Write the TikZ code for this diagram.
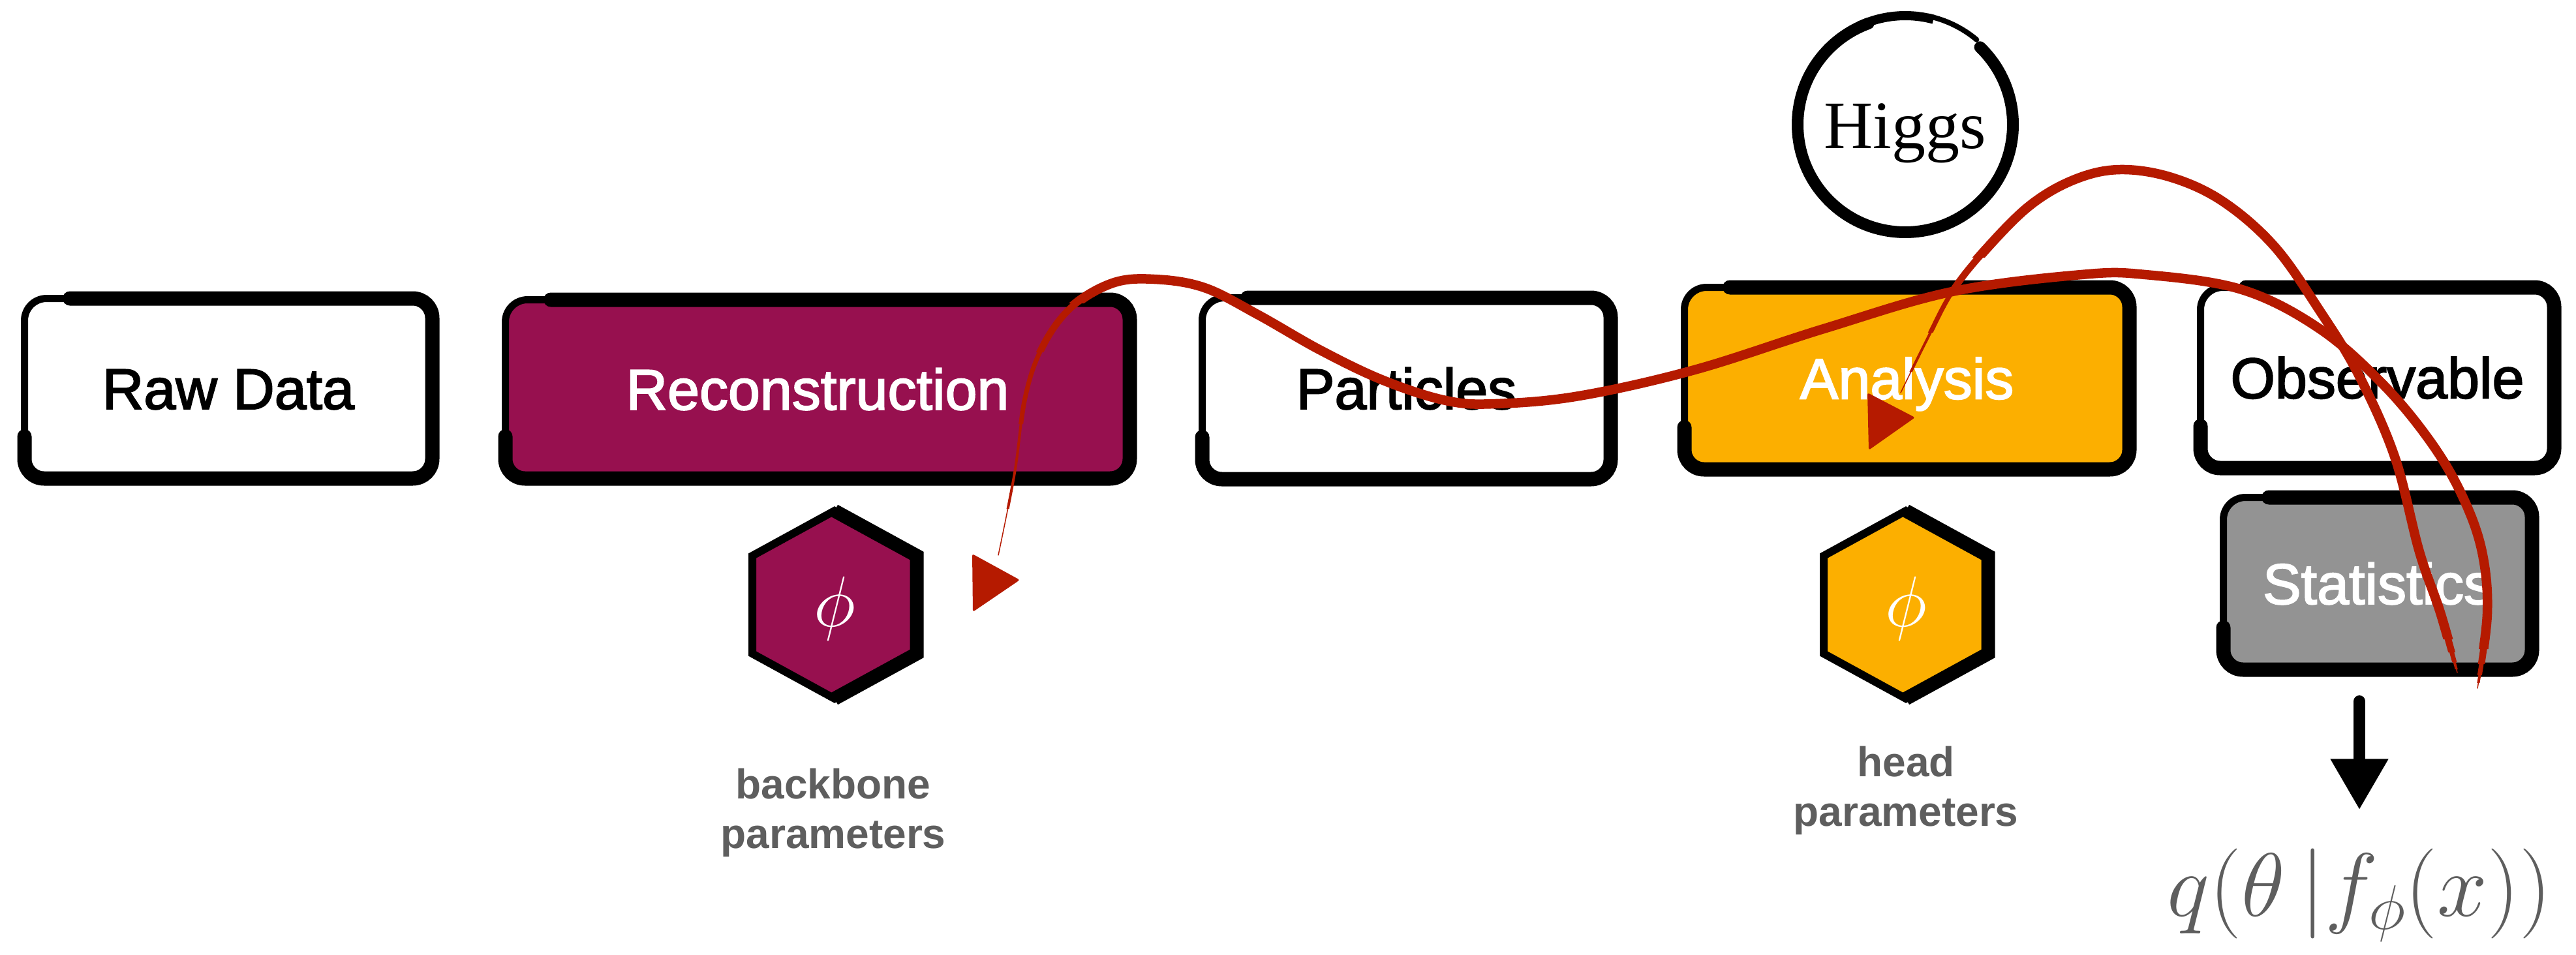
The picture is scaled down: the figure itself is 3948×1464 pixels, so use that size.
\documentclass[tikz,border=0pt]{standalone}
\usepackage{fix-cm}
\usepackage[no-math]{fontspec}
\setmainfont{Liberation Sans}
\newfontfamily\stagefont[FakeBold=2.2]{Liberation Sans}
\newfontfamily\higgsfont{Liberation Serif}
\usetikzlibrary{arrows.meta,calc}

\definecolor{recopurple}{HTML}{97104F}
\definecolor{anaorange}{HTML}{FCAF00}
\definecolor{statgray}{HTML}{939393}
\definecolor{gradred}{HTML}{B51A00}
\definecolor{labelgray}{HTML}{5E5E5E}

% thick brush stroke over the top, right and bottom of a stage box
\newcommand\brushframe[1]{%
  \draw[line width=22pt, line cap=round, rounded corners=30pt]
    ($(#1.north west)+(75,5.5)$) -- ($(#1.north east)+(-5.5,5.5)$)
    -- ($(#1.south east)+(-5.5,-5.5)$) -- ($(#1.south west)+(5.5,-5.5)$)
    -- ($(#1.south west)+(5.5,-70)$);}

% hexagonal parameter cell with a phi in it, heavier on its right half
\newcommand\hexcell[3]{%
  \draw[line width=12pt, fill=#3] ($#2+(0,-144)$) -- ++(126,69) -- ++(0,150)
    -- ++(-126,69) -- ++(-126,-69) -- ++(0,-150) -- cycle;
  \draw[line width=21pt, line join=miter] ($#2+(0,-144)$) -- ++(126,69) -- ++(0,150) -- ++(-126,69);
  \node[phisym] (#1) at ($#2+(0,6)$) {$\phi$};}

% one width layer of a tapered gradient line: width, curve style, clip region
\newcommand\gradlayer[3]{%
  \begin{scope}\clip #3; \draw[grad, line width=#1pt, #2]; \end{scope}}

\tikzset{
  stage/.style={draw=black, line width=11pt, rounded corners=34pt, inner sep=0pt,
    font=\stagefont\fontsize{88}{100}\selectfont, text height=63pt, text depth=0pt},
  phisym/.style={inner sep=0pt, text=white, font=\fontsize{110}{120}\selectfont},
  lbl/.style={inner sep=0pt, anchor=base, text=labelgray,
    font=\bfseries\fontsize{64}{76}\selectfont},
  grad/.style={draw=gradred, line cap=round, line join=round},
  curveA/.style={insert path={plot[smooth, tension=0.6] coordinates {
    (gA) (3812,940) (3804,846) (3775,763) (3727,680) (3653,590) (3555,504)
    (3436,444) (3288,421) (3190,421) (2992,447) (2795,504) (2597,567)
    (2420,607) (2292,619) (2216,614) (2120,583) (2024,537) (1929,483)
    (1846,441) (1769,428) (1705,434) (1641,472) (1597,533) (1571,610)
    (1555,725) (eA)}}},
  curveB/.style={insert path={plot[smooth, tension=0.6] coordinates {
    (gB) (3740,939) (3708,846) (3670,700) (3614,573) (3555,476) (3486,378)
    (3407,309) (3328,272) (3249,260) (3180,275) (3111,315) (3042,384)
    (2992,447) (2953,521) (eB)}}},
}

\begin{document}
\begin{tikzpicture}[x=1pt, y=-1pt]
\fill[white] (0,0) rectangle (3948,1464);
\useasboundingbox (0,0) rectangle (3948,1464);

% pipeline stages
\node[stage, fill=white, minimum width=625pt, minimum height=276pt] (raw) at (350,595.5) {Raw Data};
\node[stage, fill=recopurple, text=white, minimum width=957pt, minimum height=274pt] (reco) at (1253,596.5) {Reconstruction};
\node[stage, fill=white, minimum width=626pt, minimum height=278pt] (part) at (2155.5,595.5) {Particles};
\node[stage, fill=anaorange, text=white, minimum width=682pt, minimum height=279pt] (ana) at (2922.5,580) {Analysis};
\node[stage, fill=white, minimum width=542pt, minimum height=277pt] (obs) at (3643.5,579) {Observable};
\node[stage, fill=statgray, text=white, minimum width=473pt, minimum height=264pt] (stat) at (3644,894.5) {Statistics};
\foreach \b in {raw,reco,part,ana,obs,stat} {\brushframe{\b}}

% parameter cells and their labels
\hexcell{phiA}{(1279,927)}{recopurple}
\hexcell{phiB}{(2921,927)}{anaorange}
\node[lbl] (bbA) at (1277,1224) {backbone};
\node[lbl] (bbB) at (1277,1300) {parameters};
\node[lbl] (hdA) at (2921,1190) {head};
\node[lbl] (hdB) at (2921,1266) {parameters};

% Higgs ring, a brush stroke thinning out over the top
\node[inner sep=0pt, font=\higgsfont\fontsize{104}{110}\selectfont, text height=72pt, text depth=0pt] (higgs) at (2920,191) {Higgs};
\draw[line width=18pt, line cap=round] (higgs.center) ++(-46:165) arc[start angle=-46, end angle=250, radius=165];
\draw[line width=14pt] (higgs.center) ++(245:167) arc[start angle=245, end angle=285, radius=167];
\draw[line width=8pt, line cap=round] (higgs.center) ++(282:170) arc[start angle=282, end angle=310, radius=170];

% posterior output
\node[inner sep=0pt, anchor=base, text=labelgray, font=\fontsize{138}{150}\selectfont] (formula) at (3616,1404) {$q(\theta\,|f_\phi(x))$};
\draw[line width=18pt, line cap=round, -{Triangle[width=84pt,length=78pt]}]
  ($(stat.south -| formula.north)+(0,43)$) -- ($(formula.north)+(0,-59)$);

% gradient flow back to the backbone parameters
\coordinate (gA) at (3797,1055);
\coordinate (eA) at (1530,851);
\draw[grad, line width=1.5pt, curveA];
\gradlayer{4}{curveA}{(1700,0) rectangle (3948,1047) (0,0) rectangle (1700,780)}
\gradlayer{7}{curveA}{(1700,0) rectangle (3948,1035) (0,0) rectangle (1700,650)}
\gradlayer{10.5}{curveA}{(1700,0) rectangle (3948,1018) (0,0) rectangle (1700,540)}
\gradlayer{14.5}{curveA}{(1700,0) rectangle (3948,995) (0,0) rectangle (1700,465)}
\fill[gradred, rounded corners=3pt] (1490,849) -- (1563,889) -- (1491,938) -- cycle;

% gradient flow back to the head parameters
\coordinate (gB) at (3766,1031);
\coordinate (eB) at (2913,602);
\draw[grad, line width=1.5pt, curveB];
\gradlayer{4}{curveB}{(3060,0) rectangle (3948,1026) (0,0) rectangle (3060,570)}
\gradlayer{7}{curveB}{(3060,0) rectangle (3948,1015) (0,0) rectangle (3060,510)}
\gradlayer{10.5}{curveB}{(3060,0) rectangle (3948,1000) (0,0) rectangle (3060,450)}
\gradlayer{14.5}{curveB}{(3060,0) rectangle (3948,980) (0,0) rectangle (3060,395)}
\fill[gradred, rounded corners=3pt] (2862,602) -- (2935,640) -- (2864,690) -- cycle;
\end{tikzpicture}
\end{document}
